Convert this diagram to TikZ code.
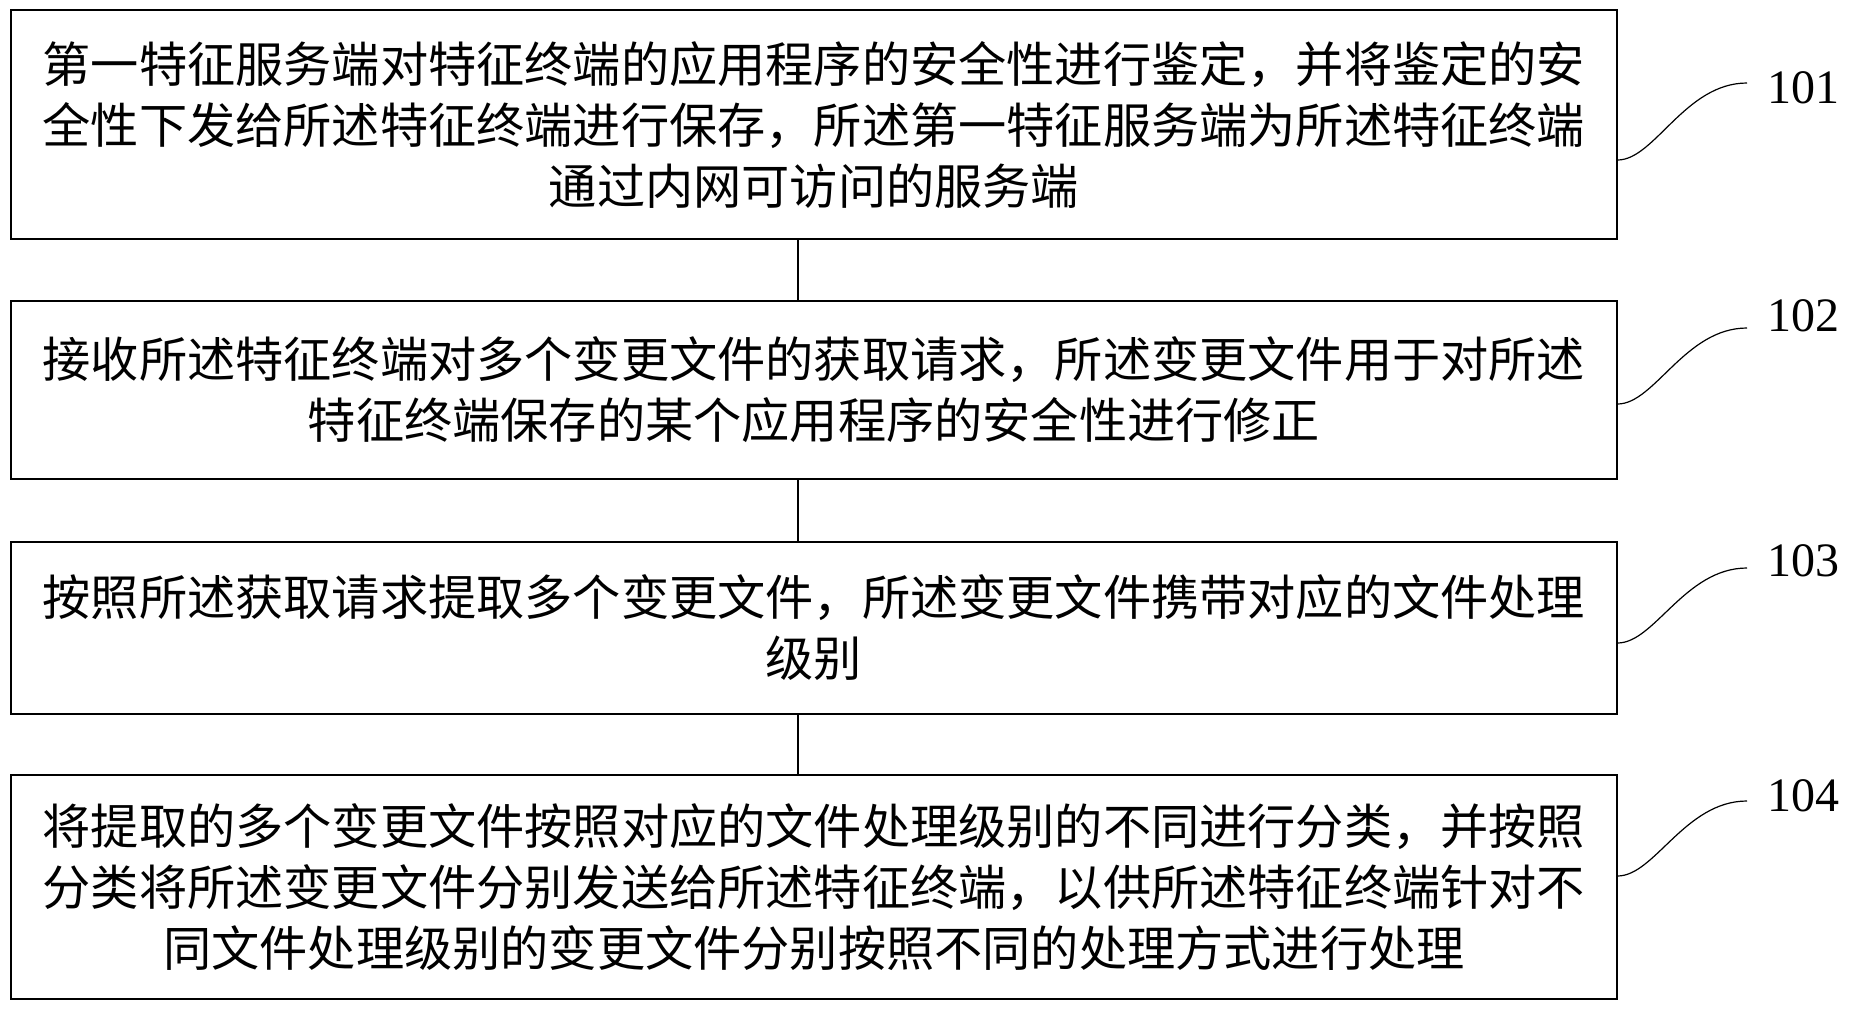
\documentclass[tikz,border=0pt]{standalone}
\usepackage{fontspec}
\setmainfont{Liberation Serif}
\newfontfamily\cjk{Noto Sans CJK SC}
\usetikzlibrary{calc}

\begin{document}
\begin{tikzpicture}[x=0.5pt,y=-0.5pt,
  stepbox/.style={draw,line width=0.6pt,minimum width=803pt,inner sep=0pt,align=center,
    font=\cjk\fontsize{24.1pt}{30.5pt}\selectfont},
  num/.style={anchor=west,inner sep=0pt,font=\fontsize{24pt}{24pt}\selectfont},
  lead/.style={line width=0.6pt}]
\useasboundingbox (0,0) rectangle (1854,1013);
\node[stepbox,minimum height=114.5pt] (s101) at (814,124.5) {第一特征服务端对特征终端的应用程序的安全性进行鉴定，并将鉴定的安\\
全性下发给所述特征终端进行保存，所述第一特征服务端为所述特征终端\\
通过内网可访问的服务端};
\node[stepbox,minimum height=89pt] (s102) at (814,390) {接收所述特征终端对多个变更文件的获取请求，所述变更文件用于对所述\\
特征终端保存的某个应用程序的安全性进行修正};
\node[stepbox,minimum height=86pt] (s103) at (814,628) {按照所述获取请求提取多个变更文件，所述变更文件携带对应的文件处理\\
级别};
\node[stepbox,minimum height=112pt] (s104) at (814,887) {将提取的多个变更文件按照对应的文件处理级别的不同进行分类，并按照\\
分类将所述变更文件分别发送给所述特征终端，以供所述特征终端针对不\\
同文件处理级别的变更文件分别按照不同的处理方式进行处理};

\draw[lead] ([xshift=-8pt]s101.south) -- ([xshift=-8pt]s102.north);
\draw[lead] ([xshift=-8pt]s102.south) -- ([xshift=-8pt]s103.north);
\draw[lead] ([xshift=-8pt]s103.south) -- ([xshift=-8pt]s104.north);

\node[num] (n101) at (1767,88) {101};
\node[num] (n102) at (1767,316) {102};
\node[num] (n103) at (1767,561) {103};
\node[num] (n104) at (1767,796) {104};
\coordinate (e101) at (1747,83);
\coordinate (e102) at (1747,328);
\coordinate (e103) at (1747,568);
\coordinate (e104) at (1747,801);

\draw[lead] ([yshift=-17.75pt]s101.east) .. controls +(37,0) and +(-62,0) .. (e101);
\draw[lead] ([yshift=-7pt]s102.east) .. controls +(37,0) and +(-62,0) .. (e102);
\draw[lead] ([yshift=-7.5pt]s103.east) .. controls +(37,0) and +(-62,0) .. (e103);
\draw[lead] ([yshift=5.5pt]s104.east) .. controls +(37,0) and +(-62,0) .. (e104);
\end{tikzpicture}
\end{document}
